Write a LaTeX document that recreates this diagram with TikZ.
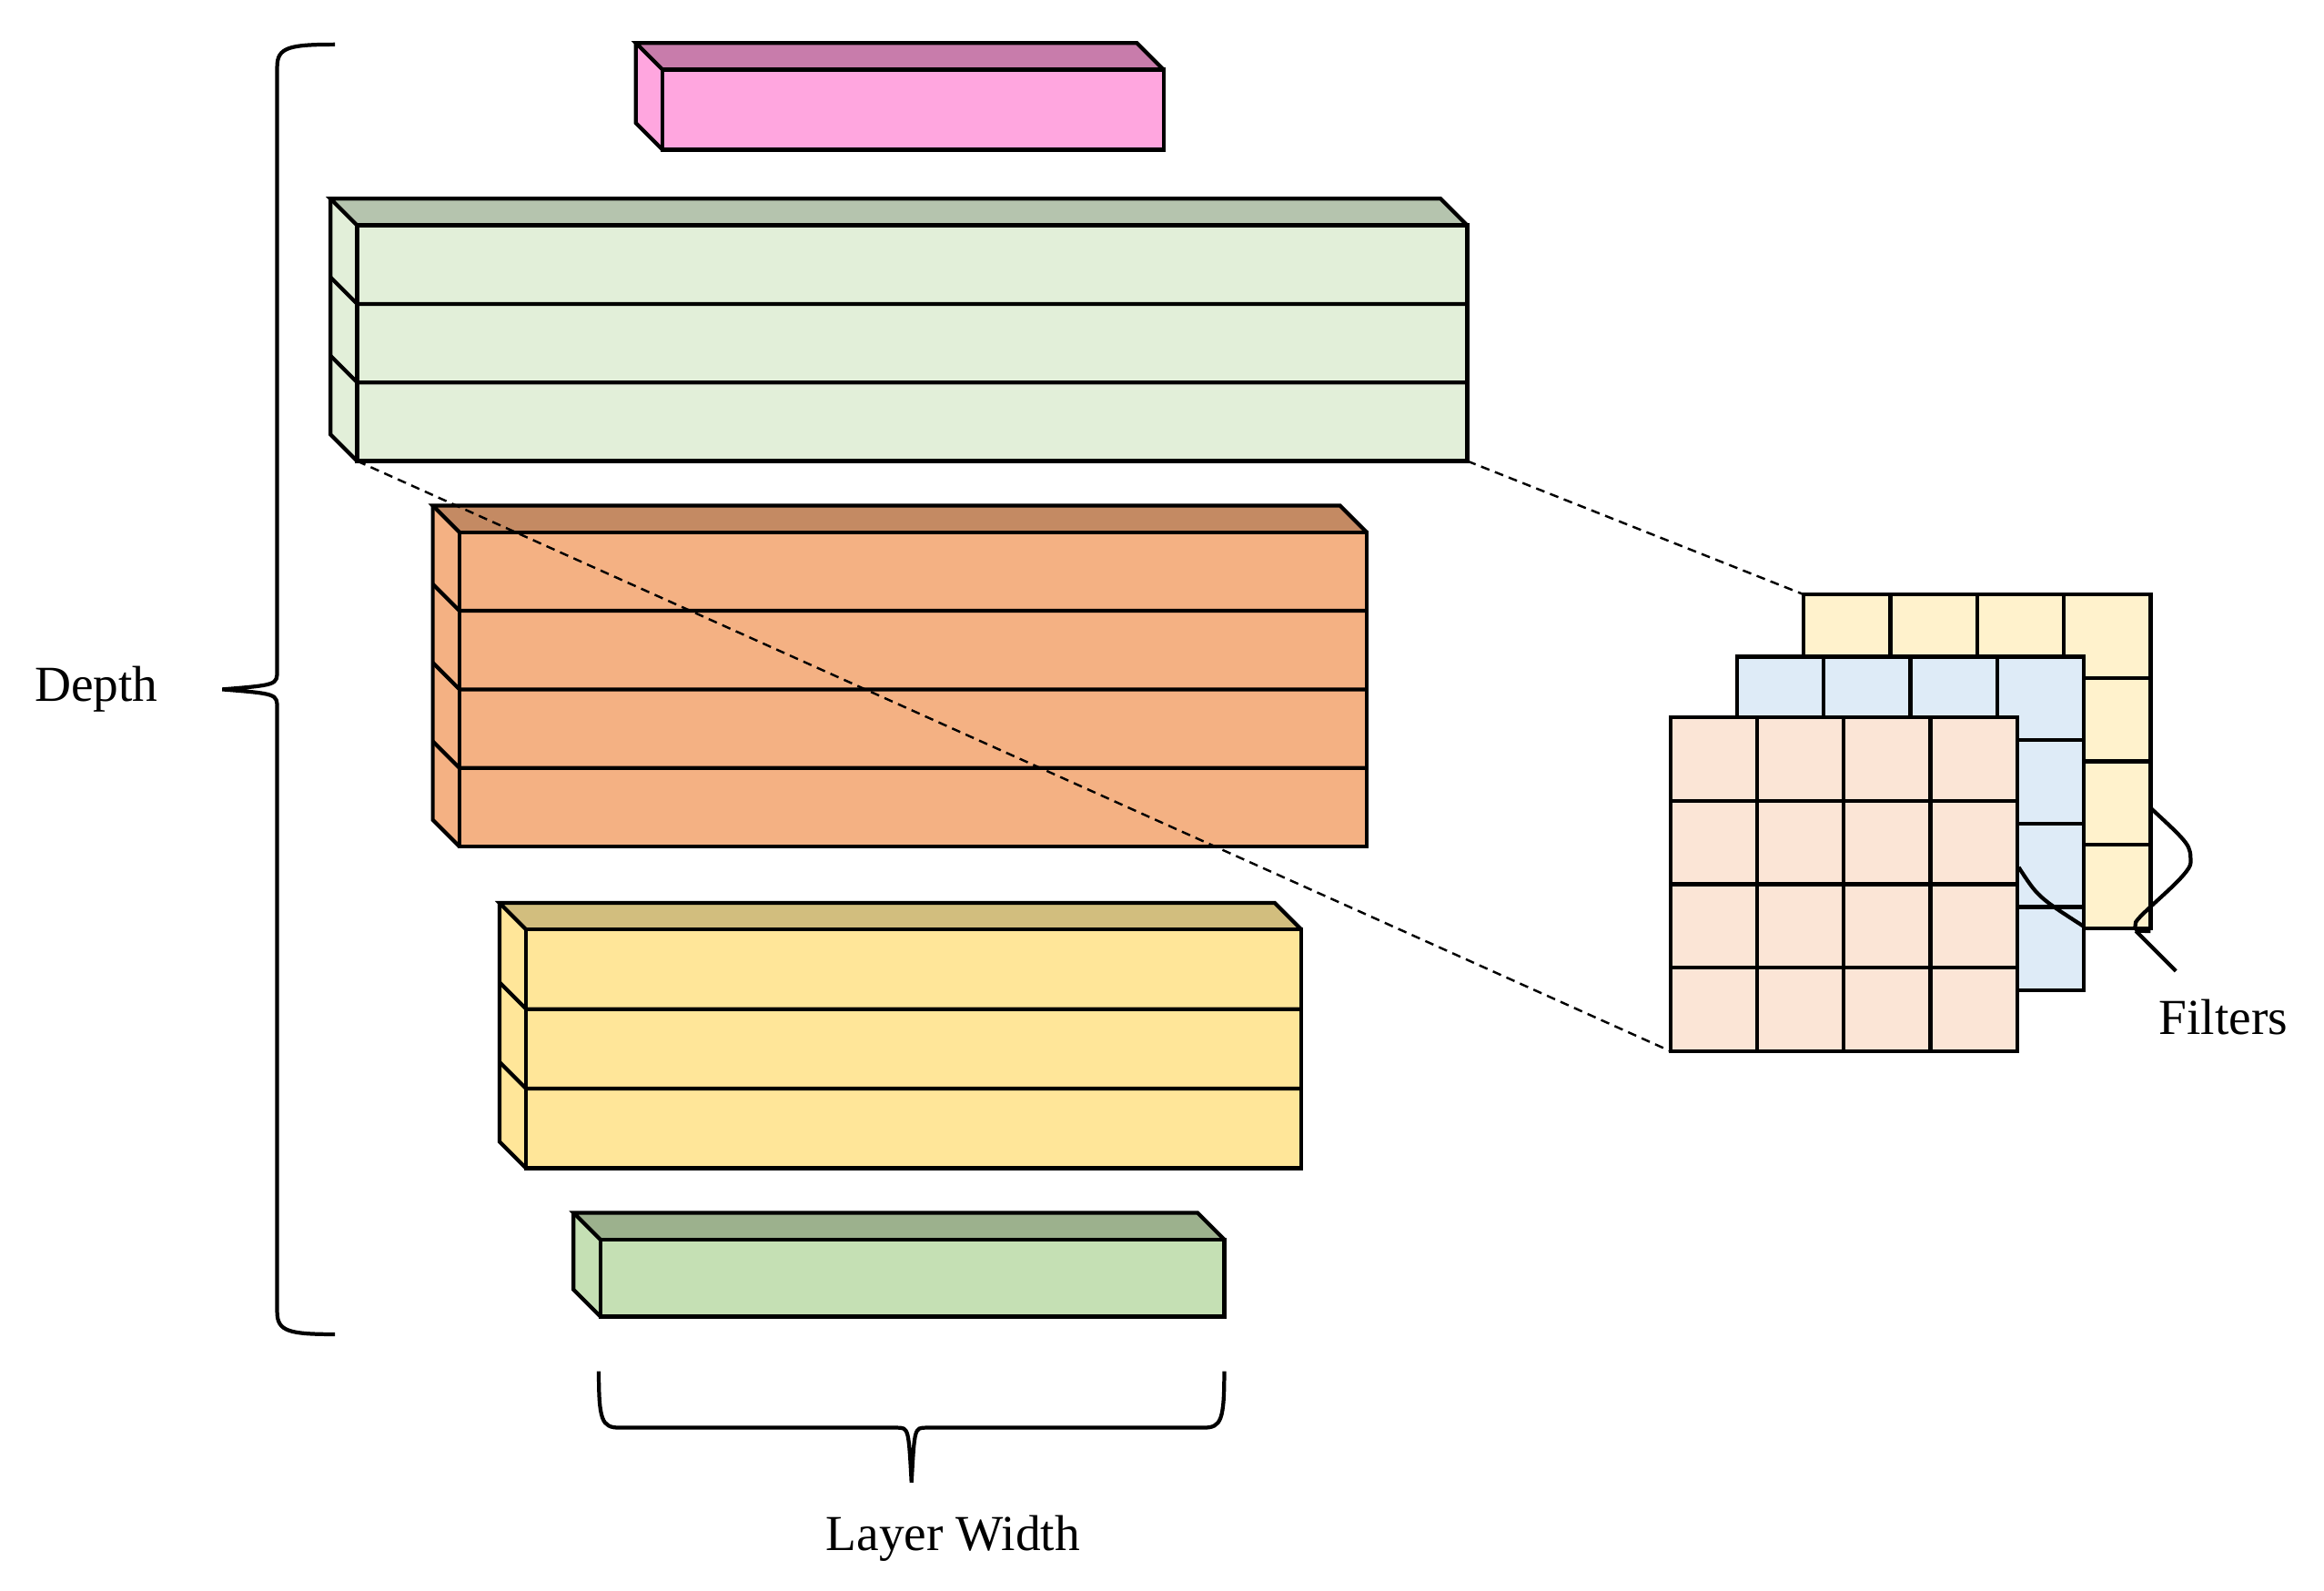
\documentclass[tikz,border=0pt]{standalone}
\usepackage{fontspec}
\setmainfont{Liberation Serif}
\begin{document}
\begin{tikzpicture}[x=1pt,y=-1pt,line join=miter,
  edge/.style={line width=2.6pt,draw=black},
  lbl/.style={font=\fontsize{34}{40}\selectfont,inner sep=0pt}]
\useasboundingbox (0,0) rectangle (1568,1073);
\newcommand{\myblock}[7]{% x1 y1 x2 y2 rows front top
  \fill[#6] (#1,#2) rectangle (#3,#4);
  \fill[#6] (#1,#2)--(#1-18,#2-18)--(#1-18,#4-18)--(#1,#4)--cycle;
  \fill[#7] (#1,#2)--(#1-18,#2-18)--(#3-18,#2-18)--(#3,#2)--cycle;
  \draw[edge] (#1,#2) rectangle (#3,#4);
  \draw[edge] (#1,#2)--(#1-18,#2-18)--(#3-18,#2-18)--(#3,#2);
  \draw[edge] (#1-18,#2-18)--(#1-18,#4-18)--(#1,#4);
  \pgfmathsetmacro\rh{(#4-#2)/#5}
  \foreach \i in {1,...,#5}{\ifnum\i<#5
    \draw[edge] (#1-18,#2+\i*\rh-18)--(#1,#2+\i*\rh)--(#3,#2+\i*\rh);\fi}
}
\newcommand{\mygrid}[3]{% x y colour
  \fill[#3] (#1,#2) rectangle ++(234,225);
  \foreach \i in {1,2,3}{
    \draw[edge] (#1+\i*58.5,#2)--++(0,225);
    \draw[edge] (#1,#2+\i*56.25)--++(234,0);}
  \draw[edge] (#1,#2) rectangle ++(234,225);
}
\myblock{447}{47}{785}{101}{1}{fill={rgb,255:red,255;green,166;blue,223}}{fill={rgb,255:red,200;green,124;blue,171}}
\myblock{241}{152}{990}{311}{3}{fill={rgb,255:red,226;green,239;blue,217}}{fill={rgb,255:red,181;green,196;blue,174}}
\myblock{310}{359}{922}{571}{4}{fill={rgb,255:red,244;green,177;blue,131}}{fill={rgb,255:red,196;green,138;blue,99}}
\myblock{355}{627}{878}{788}{3}{fill={rgb,255:red,255;green,230;blue,153}}{fill={rgb,255:red,210;green,190;blue,126}}
\myblock{405}{836}{826}{888}{1}{fill={rgb,255:red,197;green,224;blue,180}}{fill={rgb,255:red,156;green,177;blue,141}}
\coordinate (gl) at (241,311);
\coordinate (gr) at (990,311);
\coordinate (fb) at (1217,401);
\coordinate (ff) at (1127,709);
\draw[dashed,line width=1.5pt,dash pattern=on 6pt off 4pt] (gl)--(ff);
\draw[dashed,line width=1.5pt,dash pattern=on 6pt off 4pt] (gr)--(fb);
\mygrid{1217}{401}{fill={rgb,255:red,255;green,242;blue,204}}
\mygrid{1172}{443}{fill={rgb,255:red,222;green,235;blue,247}}
\mygrid{1127}{484}{fill={rgb,255:red,251;green,229;blue,214}}
% filters brace
\draw[edge] (1451,545) .. controls (1478,570) .. (1478,582) .. controls (1478,590) and (1445,615) .. (1441,622) .. controls (1440,628) .. (1451,628);
\draw[edge] (1362,585) .. controls (1375,605) .. (1406,625);
\draw[edge] (1441,628)--(1468,655);
\node[lbl] (filters) at (1500,686) {Filters};
% depth brace
\draw[edge] (226,30) .. controls (195,30) and (187,32) .. (187,45) -- (187,452) .. controls (187,462) .. (150,465) .. controls (187,468) .. (187,478) -- (187,885) .. controls (187,898) and (195,900) .. (226,900);
\node[lbl] (depth) at (65,465) {Depth};
% width brace
\draw[edge] (404,925) .. controls (404,958) and (406,963) .. (418,963) -- (605,963) .. controls (613,963) .. (615,1000) .. controls (617,963) .. (625,963) -- (812,963) .. controls (824,963) and (826,958) .. (826,925);
\node[lbl] (lw) at (643,1038) {Layer Width};
\end{tikzpicture}
\end{document}
